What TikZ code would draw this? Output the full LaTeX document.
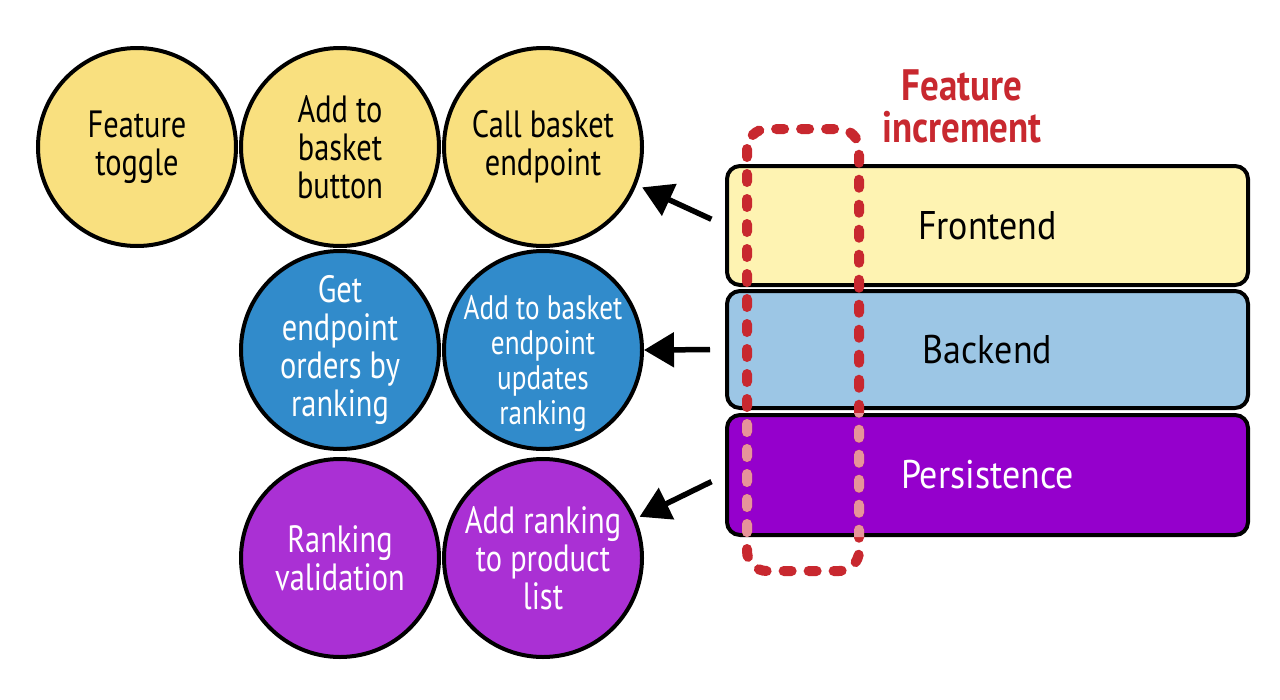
\documentclass[tikz,border=0pt]{standalone}
\usepackage{fontspec}
\setmainfont{PT Sans}[FakeStretch=0.80]
\newfontfamily\layerfont{PT Sans}[FakeStretch=0.90]
\newfontfamily\labelfont{PT Sans}[FakeStretch=0.84]
\usetikzlibrary{arrows.meta,calc}
\definecolor{cyel}{HTML}{F9E07F}
\definecolor{cblue}{HTML}{318BCB}
\definecolor{cpurp}{HTML}{AA30D4}
\definecolor{lyel}{HTML}{FEF3B2}
\definecolor{lblue}{HTML}{9CC6E5}
\definecolor{lpurp}{HTML}{9500CC}
\definecolor{incred}{HTML}{C8282F}
\definecolor{incpink}{HTML}{E6949A}
\begin{document}
\begin{tikzpicture}[x=1pt,y=-1pt,
  bubble/.style={circle, draw=black, line width=4pt, minimum size=198pt, inner sep=-40pt, align=center, font=\fontsize{38}{38}\selectfont},
  bubtext/.style={align=center, inner sep=0pt, font=\fontsize{34}{35}\selectfont},
  ybub/.style={bubble, fill=cyel, text=black},
  bbub/.style={bubble, fill=cblue, text=white},
  pbub/.style={bubble, fill=cpurp, text=white},
  layer/.style={draw=black, line width=4pt, rounded corners=13pt, minimum width=521pt, inner sep=0pt, font=\layerfont\fontsize{40}{44}\selectfont},
  arr/.style={line width=5.5pt, -{Triangle[length=30pt,width=34pt]}},
  incframe/.style={line width=10pt, dash pattern=on 8pt off 17pt, line cap=round, rounded corners=20pt}
]
\useasboundingbox[fill=white] (0,0) rectangle (1280,699);

% circles
\node[ybub] (c1) at (137,147) {Feature\\toggle};
\node[ybub] (c2) at (340,147) {Add to\\basket\\button};
\node[ybub] (c3) at (543,147) {Call basket\\endpoint};
\node[bbub] (c4) at (340,350) {Get\\endpoint\\orders by\\ranking};
\node[bbub] (c5) at (543,350) {};
\node[bubtext, text=white] (c5t) at (543,364) {Add to basket\\endpoint\\updates\\ranking};
\node[pbub] (c6) at (340,558) {Ranking\\validation};
\node[pbub] (c7) at (543,558) {Add ranking\\to product\\list};

% layers
\node[layer, fill=lyel, minimum height=119pt, text=black] (front) at (987.5,225.5) {Frontend};
\node[layer, fill=lblue, minimum height=117pt, text=black] (back) at (987.5,349.5) {Backend};
\node[layer, fill=lpurp, minimum height=120pt, text=white] (pers) at (987.5,475) {Persistence};

% arrows
\draw[arr, shorten <=15pt, shorten >=6pt] (front.west) -- (c3.-22);
\draw[arr, shorten <=15pt] (back.west) -- (c5.east);
\draw[arr, shorten <=15pt, shorten >=4pt] (pers.west) -- (c7.23);

% feature increment frame
\coordinate (incTL) at (747,129);
\coordinate (incBR) at (859,571);
\draw[incframe, draw=incred] (incTL) rectangle (incBR);
\begin{scope}
  \clip[rounded corners=11pt] (pers.north west) rectangle (pers.south east);
  \draw[incframe, draw=incpink] (incTL) rectangle (incBR);
\end{scope}
\node[text=incred, align=center, font=\labelfont\fontsize{44}{42}\selectfont\bfseries] (inclabel) at (962,106) {Feature\\increment};
\end{tikzpicture}
\end{document}
